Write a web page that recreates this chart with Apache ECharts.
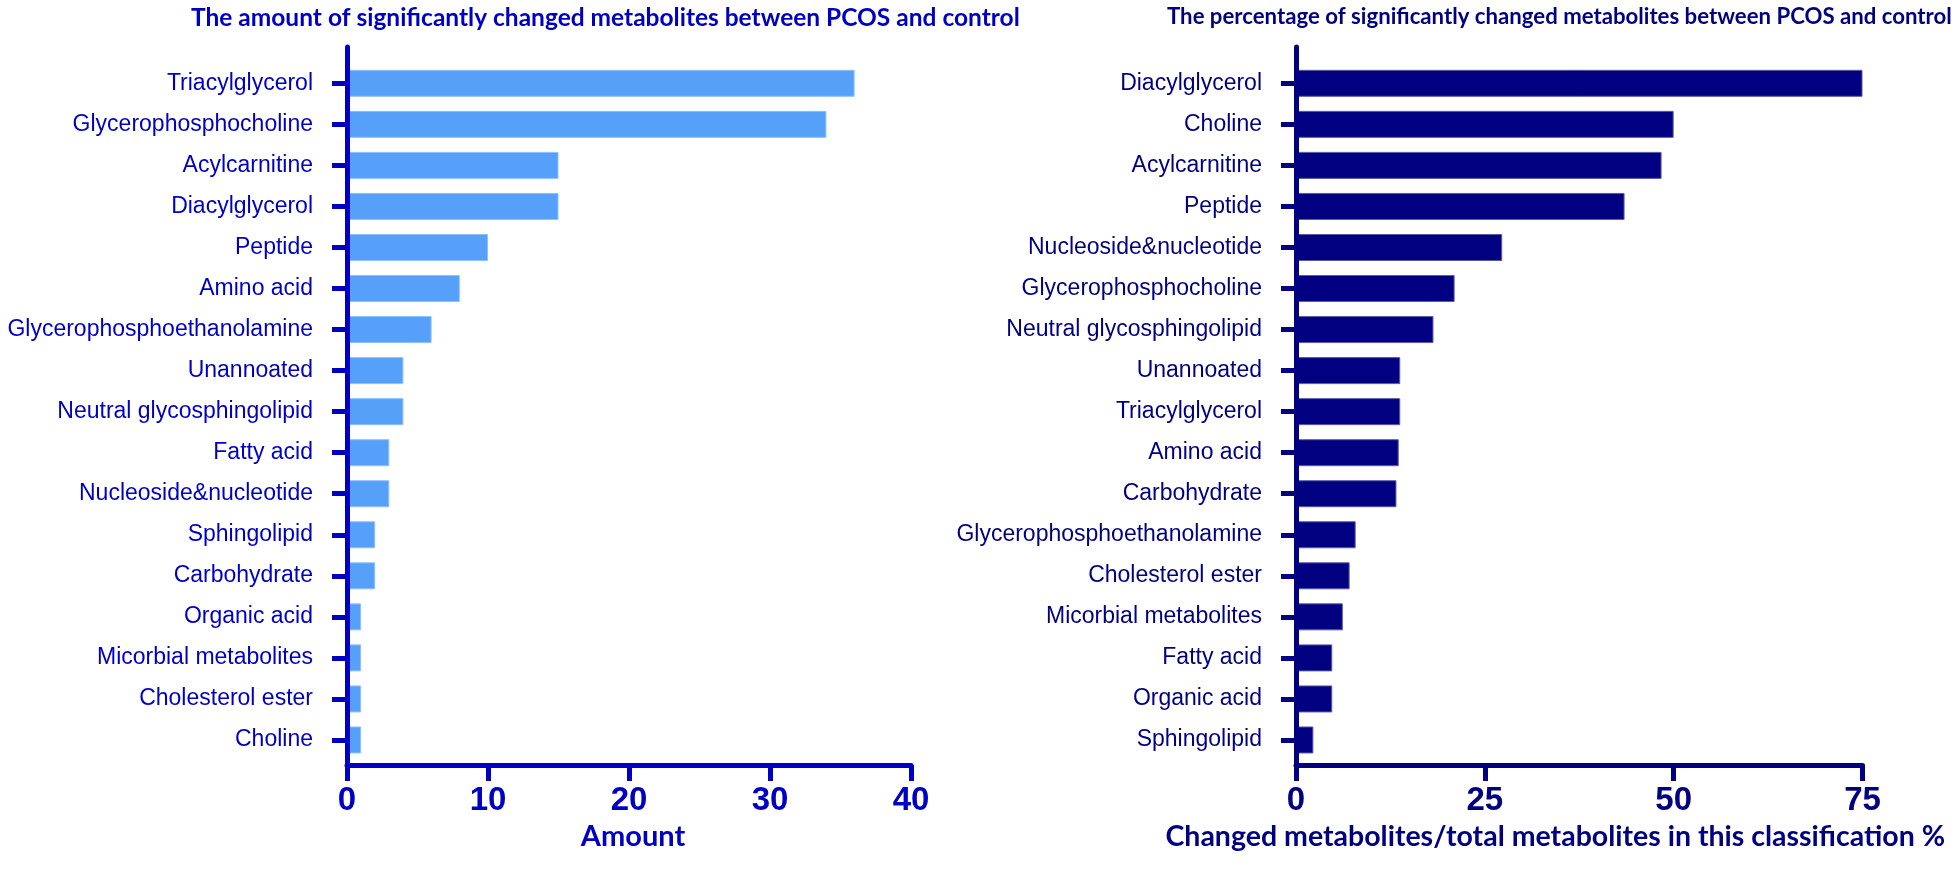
<!DOCTYPE html>
<html>
<head>
<meta charset="utf-8">
<script src="https://cdn.jsdelivr.net/npm/echarts@6/dist/echarts.min.js"></script>
<style>
html,body{margin:0;padding:0;background:#fff;}
#chart{width:1960px;height:877px;}
</style>
</head>
<body>
<div id="chart"></div>
<script>
// ---- Data ----
const leftTitle = 'The amount of significantly changed metabolites between PCOS and control';
const rightTitle = 'The percentage of significantly changed metabolites between PCOS and control';
const leftAxisName = 'Amount';
const rightAxisName = 'Changed metabolites/total metabolites in this classification %';

const leftCategories = ['Triacylglycerol','Glycerophosphocholine','Acylcarnitine','Diacylglycerol','Peptide','Amino acid','Glycerophosphoethanolamine','Unannoated','Neutral glycosphingolipid','Fatty acid','Nucleoside&nucleotide','Sphingolipid','Carbohydrate','Organic acid','Micorbial metabolites','Cholesterol ester','Choline'];
const leftValues = [36,34,15,15,10,8,6,4,4,3,3,2,2,1,1,1,1];
const leftTicks = [0,10,20,30,40];

const rightCategories = ['Diacylglycerol','Choline','Acylcarnitine','Peptide','Nucleoside&nucleotide','Glycerophosphocholine','Neutral glycosphingolipid','Unannoated','Triacylglycerol','Amino acid','Carbohydrate','Glycerophosphoethanolamine','Cholesterol ester','Micorbial metabolites','Fatty acid','Organic acid','Sphingolipid'];
const rightValues = [75,50,48.4,43.5,27.3,21.0,18.2,13.8,13.8,13.6,13.3,7.9,7.1,6.2,4.8,4.8,2.3];
const rightTicks = [0,25,50,75];

// ---- Layout ----
const FRAME_TOP = 47, FRAME_H = 718;
const BAND_TOP = 62.8, BAND_H = 697.7;
const L = {left:347, width:564, color:'#0000C4', bar:'#56A0FA', barBorder:'#8EC0FF'};
const R = {left:1296, width:566.5, color:'#000080', bar:'#000080', barBorder:'#5A5AA8'};
const TICK_FONT = 'Liberation Sans, Arial, sans-serif';

function panel(p, idx, cats, vals, ticks, axisName, namePad, nameSize) {
  const g0 = idx*2, g1 = idx*2+1;
  const grids = [
    {left:p.left, top:FRAME_TOP, width:p.width, height:FRAME_H, containLabel:false},
    {left:p.left, top:BAND_TOP, width:p.width, height:BAND_H, containLabel:false}
  ];
  const xAxes = [
    {gridIndex:g0, type:'value', min:ticks[0], max:ticks[ticks.length-1], interval:ticks[1]-ticks[0],
     axisLine:{show:true, onZero:false, lineStyle:{color:p.color, width:5}},
     axisTick:{show:true, length:16, inside:false, lineStyle:{color:p.color, width:5}},
     splitLine:{show:false},
     axisLabel:{color:p.color, fontSize:33, fontWeight:'bold', fontFamily:TICK_FONT, margin:19, lineHeight:33},
     name:axisName, nameLocation:'middle', nameGap:49,
     nameTextStyle:{color:p.color, fontSize:nameSize, fontWeight:'bold', fontFamily:'Lato', padding:namePad}},
    {gridIndex:g1, type:'value', min:ticks[0], max:ticks[ticks.length-1], show:false}
  ];
  const yAxes = [
    {gridIndex:g0, type:'value', min:0, max:1, z:10,
     axisLine:{show:true, onZero:false, lineStyle:{color:p.color, width:5}},
     axisTick:{show:false}, axisLabel:{show:false}, splitLine:{show:false}},
    {gridIndex:g1, type:'category', inverse:true, data:cats,
     axisLine:{show:false},
     axisTick:{show:true, alignWithLabel:true, length:15, lineStyle:{color:p.color, width:5}},
     axisLabel:{color:p.color, fontSize:23, fontFamily:'Liberation Sans, Arial, sans-serif', margin:34},
     splitLine:{show:false}}
  ];
  const series = [{
    type:'bar', xAxisIndex:g1, yAxisIndex:g1, data:vals, barWidth:27,
    itemStyle:{color:p.bar, borderColor:p.barBorder, borderWidth:1},
    silent:true, animation:false
  }];
  return {grids, xAxes, yAxes, series};
}

const pl = panel(L, 0, leftCategories, leftValues, leftTicks, leftAxisName, [0,0,0,8], 29);
const pr = panel(R, 1, rightCategories, rightValues, rightTicks, rightAxisName, [0,48,0,0], 28.5);

const chart = echarts.init(document.getElementById('chart'), null, {renderer:'canvas'});
chart.setOption({
  backgroundColor:'#ffffff',
  animation:false,
  title:[
    {text:leftTitle, left:186, top:1, textStyle:{color:'#0000C4', fontSize:24.5, fontWeight:'bold', fontFamily:'Lato'}},
    {text:rightTitle, left:1162, top:1, textStyle:{color:'#000080', fontSize:22.2, fontWeight:'bold', fontFamily:'Lato'}}
  ],
  grid: pl.grids.concat(pr.grids),
  xAxis: pl.xAxes.concat(pr.xAxes),
  yAxis: pl.yAxes.concat(pr.yAxes),
  series: pl.series.concat(pr.series)
});
</script>
</body>
</html>
